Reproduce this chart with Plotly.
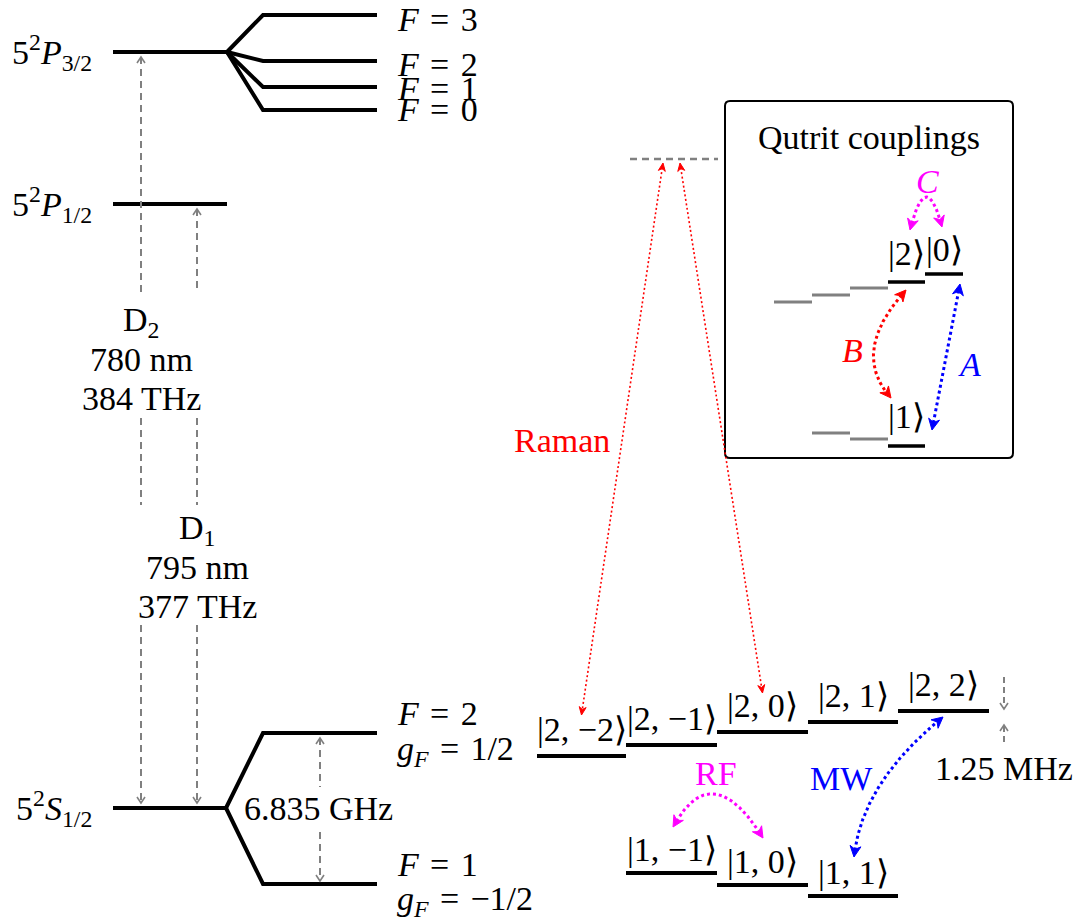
import numpy as np
import plotly.graph_objects as go

# ---------------- data (vertical positions = energy axis, px from top) ----------------
fine_labels = ["5<sup>2</sup><i>P</i><sub>3/2</sub>", "5<sup>2</sup><i>P</i><sub>1/2</sub>",
               "5<sup>2</sup><i>S</i><sub>1/2</sub>"]
fine_levels = [52, 204, 808]

p32_hf_labels = ["<i>F</i>\u2004=\u20043", "<i>F</i>\u2004=\u20042", "<i>F</i>\u2004=\u20041",
                 "<i>F</i>\u2004=\u20040"]
p32_hf_levels = [15, 61, 87, 110]
p32_label_pos = [19, 64, 88, 109]

s12_hf_labels = ["<i>F</i>\u2004=\u20042", "<i>F</i>\u2004=\u20041"]
s12_gf_labels = ["<i>g<sub>F</sub></i>\u2004=\u20041/2", "<i>g<sub>F</sub></i>\u2004=\u2004−1/2"]
s12_hf_levels = [733, 884]
hf_splitting_label = "6.835 GHz"

d_line_names = ["D<sub>2</sub>", "D<sub>1</sub>"]
d_line_wavelengths = ["780 nm", "795 nm"]
d_line_frequencies = ["384 THz", "377 THz"]
d_line_upper = [0, 1]

f2_kets = ["|2, −2⟩", "|2, −1⟩", "|2, 0⟩", "|2, 1⟩", "|2, 2⟩"]
f2_levels = [756, 745, 732, 722, 711]
f1_kets = ["|1, −1⟩", "|1, 0⟩", "|1, 1⟩"]
f1_levels = [873, 885, 896]
zeeman_label = "1.25 MHz"
virtual_level = 159

qutrit_upper_levels = [302, 295, 288, 282, 274]
qutrit_upper_kets = ["", "", "", "|2⟩", "|0⟩"]
qutrit_lower_levels = [433, 439, 446]
qutrit_lower_kets = ["", "", "|1⟩"]
coupling_labels = ["Raman", "RF", "MW"]
qutrit_coupling_labels = ["<i>A</i>", "<i>B</i>", "<i>C</i>"]
inset_title = "Qutrit couplings"

# ---------------- style ----------------
BLACK = "#000000"
GRAY = "#808080"
RED = "#ff0000"
MAG = "#ff00ff"
BLUE = "#0000ff"
FONT = "Liberation Serif"
FS = 34

fig = go.Figure()


def line(xs, ys, color=BLACK, width=4, dash=None):
    fig.add_trace(go.Scatter(x=list(xs), y=list(ys), mode="lines",
                             line=dict(color=color, width=width, dash=dash),
                             hoverinfo="skip", showlegend=False))


def text(x, y, s, color=BLACK, size=FS, xanchor="center", yanchor="middle", bg=None, pad=1):
    fig.add_annotation(x=x, y=y, text=s, showarrow=False, xref="x", yref="y",
                       xanchor=xanchor, yanchor=yanchor,
                       font=dict(family=FONT, size=size, color=color),
                       bgcolor=bg, borderpad=pad)


def qbez(p0, c, p2, n=80):
    t = np.linspace(0, 1, n)[:, None]
    p0, c, p2 = map(np.asarray, (p0, c, p2))
    pts = (1 - t) ** 2 * p0 + 2 * (1 - t) * t * c + t ** 2 * p2
    return pts[:, 0], pts[:, 1]


def through(p0, mid, p2, n=80):
    p0, mid, p2 = map(np.asarray, (p0, mid, p2))
    c = 2 * mid - 0.5 * (p0 + p2)
    return qbez(p0, c, p2, n)


def arrow(xs, ys, color, width, dash, L, W, start=True, end=True):
    pts = np.column_stack([xs, ys]).astype(float)
    seg = np.hypot(*np.diff(pts, axis=0).T)
    s = np.concatenate([[0], np.cumsum(seg)])
    tot = s[-1]

    def at(v):
        return np.array([np.interp(v, s, pts[:, 0]), np.interp(v, s, pts[:, 1])])

    s0 = 0.6 * L if start else 0
    s1 = tot - (0.6 * L if end else 0)
    ss = np.linspace(s0, s1, 200)
    line(np.interp(ss, s, pts[:, 0]), np.interp(ss, s, pts[:, 1]), color, width, dash)
    heads = []
    if start:
        heads.append((pts[0], at(L)))
    if end:
        heads.append((pts[-1], at(tot - L)))
    for tip, ref in heads:
        d = tip - ref
        d /= np.hypot(*d)
        n = np.array([-d[1], d[0]])
        back = tip - L * d
        poly = [tip, back + W * n, tip - 0.7 * L * d, back - W * n, tip]
        px, py = zip(*poly)
        fig.add_trace(go.Scatter(x=px, y=py, mode="lines", fill="toself", fillcolor=color,
                                 line=dict(color=color, width=1), hoverinfo="skip",
                                 showlegend=False))


def gray_tip(x, y, direction):
    # open "->" tip, direction: +1 pointing down, -1 pointing up
    line([x - 4, x, x + 4], [y - 6 * direction, y, y - 6 * direction], GRAY, 1.6)


# ---------------- fine & hyperfine structure (left) ----------------
XL0, XL1, XB, XR = 113, 227, 263, 377
for lab, lev in zip(fine_labels, fine_levels):
    line([XL0, XL1], [lev, lev])
    text(94, lev, lab, xanchor="right")

for lev in p32_hf_levels:
    line([XL1, XB, XR], [fine_levels[0], lev, lev])
for lab, yy in zip(p32_hf_labels, p32_label_pos):
    text(395, yy, lab, xanchor="left")

for lev in s12_hf_levels:
    line([XL1 - 1, XB, XR], [fine_levels[2], lev, lev])
text(395, s12_hf_levels[0] - 20, s12_hf_labels[0], xanchor="left")
text(395, s12_hf_levels[0] + 18, s12_gf_labels[0], xanchor="left")
text(395, s12_hf_levels[1] - 20, s12_hf_labels[1], xanchor="left")
text(395, s12_hf_levels[1] + 17, s12_gf_labels[1], xanchor="left")

# D lines
DX = [141, 197]
DASH = "7px,5px"
for i, (name, wl, fr, up) in enumerate(zip(d_line_names, d_line_wavelengths,
                                           d_line_frequencies, d_line_upper)):
    top = fine_levels[up] + 5
    bot = fine_levels[2] - 5
    x = DX[i]
    segs = [(top, 293), (418, 505), (625, bot)]
    for a, b in segs:
        line([x, x], [a, b], GRAY, 2, DASH)
    gray_tip(x, top, -1)
    gray_tip(x, bot, 1)
ty = [322, 530]
for i, (name, wl, fr) in enumerate(zip(d_line_names, d_line_wavelengths, d_line_frequencies)):
    text(DX[i], ty[i], name)
    text(DX[i], ty[i] + 37, wl)
    text(DX[i], ty[i] + 76, fr)

# hyperfine splitting arrow
HX = 320
h_top = s12_hf_levels[0] + 5
h_bot = s12_hf_levels[1] - 3
line([HX, HX], [h_top, 787], GRAY, 2, DASH)
line([HX, HX], [832, h_bot], GRAY, 2, DASH)
gray_tip(HX, h_top, -1)
gray_tip(HX, h_bot, 1)
text(318, fine_levels[2], hf_splitting_label, bg="white", pad=0)

# ---------------- Zeeman sublevels ----------------
ZX = [537, 626, 717, 808, 898, 989]
for i, (k, lev) in enumerate(zip(f2_kets, f2_levels)):
    line([ZX[i], ZX[i + 1]], [lev, lev])
    text((ZX[i] + ZX[i + 1]) / 2, lev - 27, k)
for j, (k, lev) in enumerate(zip(f1_kets, f1_levels)):
    i = j + 1
    line([ZX[i], ZX[i + 1]], [lev, lev])
    text((ZX[i] + ZX[i + 1]) / 2, lev - 24, k)

# Zeeman splitting marker
ZMX = 1004
z_top = f2_levels[4] - 2
z_bot = f2_levels[3] + 3
line([ZMX, ZMX], [677, z_top - 1], GRAY, 2, "6px,4px")
line([ZMX, ZMX], [z_bot + 1, 745], GRAY, 2, "6px,4px")
gray_tip(ZMX, z_top, 1)
gray_tip(ZMX, z_bot, -1)
text(1004, 768, zeeman_label)

# virtual level and Raman beams
line([630, 718], [virtual_level, virtual_level], GRAY, 2.5, "7px,5px")
c_m2 = (ZX[0] + ZX[1]) / 2
c_0 = (ZX[2] + ZX[3]) / 2
arrow([663, c_m2], [virtual_level + 4, f2_levels[0] - 41], RED, 1.6, "2px,2.5px", 8, 3.5)
arrow([680, c_0], [virtual_level + 4, f2_levels[2] - 39], RED, 1.6, "2px,2.5px", 8, 3.5)
text(562, 440, coupling_labels[0], RED)

# RF and MW
xs, ys = through((673, 827), (715, 794), (763, 838))
arrow(xs, ys, MAG, 3, "3px,3px", 11, 5.5)
text(716, 773, coupling_labels[1], MAG)
xs, ys = through((854, 857), (880, 785), (943, 717))
arrow(xs, ys, BLUE, 3, "3px,3px", 11, 5.5)
text(841, 778, coupling_labels[2], BLUE)

# ---------------- inset ----------------
bx0, by0, bx1, by1, r = 725, 101, 1013, 458, 5
fig.add_shape(type="path", xref="x", yref="y",
              path=(f"M {bx0 + r},{by0} L {bx1 - r},{by0} Q {bx1},{by0} {bx1},{by0 + r} "
                    f"L {bx1},{by1 - r} Q {bx1},{by1} {bx1 - r},{by1} L {bx0 + r},{by1} "
                    f"Q {bx0},{by1} {bx0},{by1 - r} L {bx0},{by0 + r} Q {bx0},{by0} {bx0 + r},{by0} Z"),
              line=dict(color=BLACK, width=2), fillcolor="white", layer="below")
text(869, 137, inset_title)

QX = [774, 812, 850, 888, 925, 963]
for i, (lev, k) in enumerate(zip(qutrit_upper_levels, qutrit_upper_kets)):
    col = BLACK if k else GRAY
    line([QX[i], QX[i + 1]], [lev, lev], col, 3.5 if k else 3)
for j, (lev, k) in enumerate(zip(qutrit_lower_levels, qutrit_lower_kets)):
    i = j + 1
    col = BLACK if k else GRAY
    line([QX[i], QX[i + 1]], [lev, lev], col, 3.5 if k else 3)
text(906, 253, qutrit_upper_kets[3])
text(944, 249, qutrit_upper_kets[4])
text(906, 416, qutrit_lower_kets[2])

# A, B, C couplings
arrow([960, 932], [284, 430], BLUE, 3, "3px,3px", 11, 5.5)
text(969, 364, qutrit_coupling_labels[0], BLUE)
xs, ys = through((906, 290), (874, 348), (891, 398))
arrow(xs, ys, RED, 3, "3px,3px", 11, 5.5)
text(852, 350, qutrit_coupling_labels[1], RED)
xs, ys = through((910, 230), (926, 197), (942, 227))
arrow(xs, ys, MAG, 3, "3px,3px", 11, 5.5)
text(927, 181, qutrit_coupling_labels[2], MAG)

fig.update_layout(
    width=1078, height=923, autosize=False,
    margin=dict(l=0, r=0, t=0, b=0),
    paper_bgcolor="white", plot_bgcolor="white",
    xaxis=dict(range=[0, 1078], visible=False, fixedrange=True),
    yaxis=dict(range=[923, 0], visible=False, fixedrange=True),
    showlegend=False,
)
fig.write_html("out.html")
